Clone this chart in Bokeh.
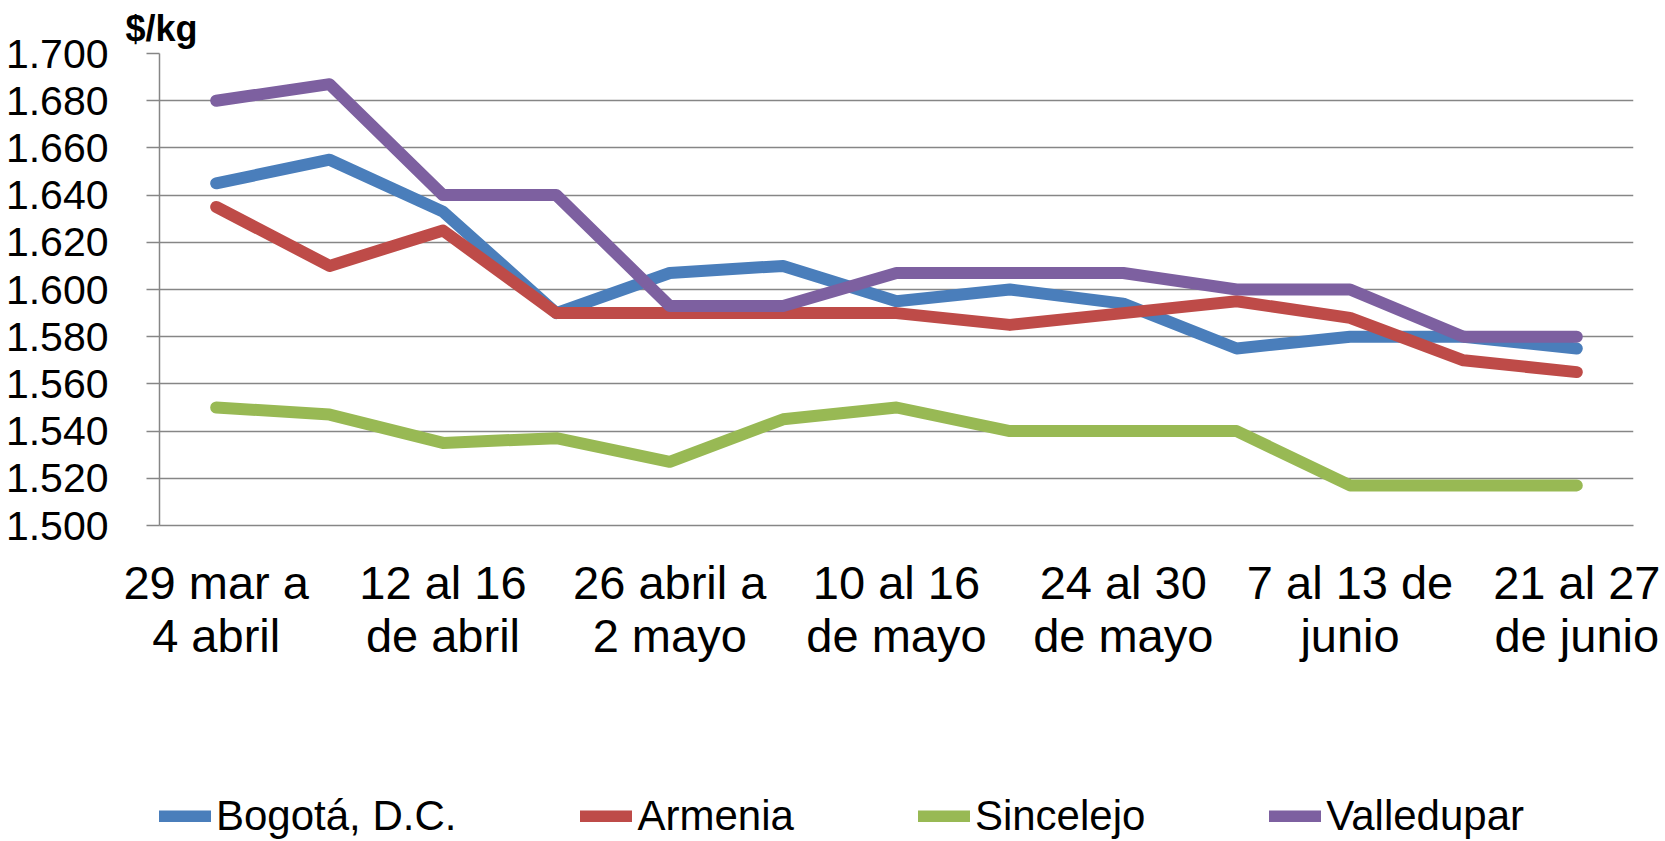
from bokeh.plotting import figure
from bokeh.layouts import column
from bokeh.models import Range1d, FixedTicker, Legend, LegendItem, Title
from bokeh.embed import file_html
from bokeh.resources import INLINE

weeks = [
    "29 mar a\n4 abril", "5 al 11\nde abril", "12 al 16\nde abril", "19 al 25\nde abril",
    "26 abril a\n2 mayo", "3 al 9\nde mayo", "10 al 16\nde mayo", "17 al 23\nde mayo",
    "24 al 30\nde mayo", "31 mayo a\n6 junio", "7 al 13 de\njunio", "14 al 20\nde junio",
    "21 al 27\nde junio",
]
shown_weeks = [0, 2, 4, 6, 8, 10, 12]

bogota = [1645, 1655, 1633, 1590, 1607, 1610, 1595, 1600, 1594, 1575, 1580, 1580, 1575]
armenia = [1635, 1610, 1625, 1590, 1590, 1590, 1590, 1585, 1590, 1595, 1588, 1570, 1565]
sincelejo = [1550, 1547, 1535, 1537, 1527, 1545, 1550, 1540, 1540, 1540, 1517, 1517, 1517]
valledupar = [1680, 1687, 1640, 1640, 1593, 1593, 1607, 1607, 1607, 1600, 1600, 1580, 1580]

series_names = ["Bogotá, D.C.", "Armenia", "Sincelejo", "Valledupar"]
series_colors = ["#4A7EBB", "#BE4B48", "#98B954", "#7D60A0"]
y_ticks = list(range(1500, 1701, 20))
unit_label = "$/kg"

FONT = "Liberation Sans"
GRID = "#868686"
W = 1665
H_MAIN = 700
H_LEG = 141
LW = 12

x = list(range(len(weeks)))
all_series = [bogota, armenia, sincelejo, valledupar]

p = figure(width=W, height=H_MAIN,
           x_range=Range1d(-0.5, len(weeks) - 0.5), y_range=Range1d(1500, 1700),
           output_backend="svg", toolbar_location=None,
           min_border_left=159, min_border_right=32, min_border_top=51,
           min_border_bottom=H_MAIN - 525,
           outline_line_color=None)

p.title = Title(text=unit_label, align="left", offset=-34, text_font=FONT,
                text_font_size="36px", text_font_style="bold", text_color="black", standoff=10)

# axes
p.xaxis.ticker = FixedTicker(ticks=shown_weeks)
p.xaxis.major_label_overrides = {i: weeks[i] for i in shown_weeks}
p.xaxis.major_tick_out = 0
p.xaxis.major_tick_in = 0
p.xaxis.minor_tick_out = 0
p.xaxis.minor_tick_in = 0
p.xaxis.axis_line_color = GRID
p.xaxis.axis_line_width = 1.5
p.xaxis.major_label_text_font = FONT
p.xaxis.major_label_text_font_size = "47px"
p.xaxis.major_label_text_color = "black"
p.xaxis.major_label_text_line_height = 1.018
p.xaxis.major_label_standoff = 30

p.yaxis.ticker = FixedTicker(ticks=y_ticks)
p.yaxis.major_label_overrides = {t: f"{t:,}".replace(",", ".") for t in y_ticks}
p.yaxis.major_tick_out = 13
p.yaxis.major_tick_in = 0
p.yaxis.minor_tick_out = 0
p.yaxis.minor_tick_in = 0
p.yaxis.major_tick_line_color = GRID
p.yaxis.major_tick_line_width = 1.5
p.yaxis.axis_line_color = GRID
p.yaxis.axis_line_width = 1.5
p.yaxis.major_label_text_font = FONT
p.yaxis.major_label_text_font_size = "41px"
p.yaxis.major_label_text_color = "black"
p.yaxis.major_label_standoff = 38

p.xgrid.grid_line_color = None
p.ygrid.grid_line_color = GRID
p.ygrid.grid_line_width = 1.5

for vals, col in zip(all_series, series_colors):
    p.line(x=x, y=vals, line_color=col, line_width=LW, line_cap="round", line_join="round")

# legend strip below the chart (its series lie outside its own y range, so only the keys show)
pl = figure(width=W, height=H_LEG, x_range=Range1d(-0.5, len(weeks) - 0.5), y_range=Range1d(0, 1),
            output_backend="svg", toolbar_location=None, min_border=0,
            x_axis_location=None, y_axis_location=None, outline_line_color=None)
pl.grid.grid_line_color = None
leg_renderers = [pl.line(x=x, y=vals, line_color=col, line_width=LW, line_cap="round")
                 for vals, col in zip(all_series, series_colors)]
legend = Legend(items=[LegendItem(label=n, renderers=[r]) for n, r in zip(series_names, leg_renderers)],
                orientation="horizontal", location=(0, 1),
                glyph_width=52, glyph_height=12, label_standoff=5, spacing=124,
                padding=0, margin=0, border_line_color=None, background_fill_alpha=0,
                label_text_font=FONT, label_text_font_size="42px", label_text_color="black")
pl.add_layout(legend)

layout = column(p, pl, spacing=0)
open("out.html", "w").write(file_html(layout, INLINE))
